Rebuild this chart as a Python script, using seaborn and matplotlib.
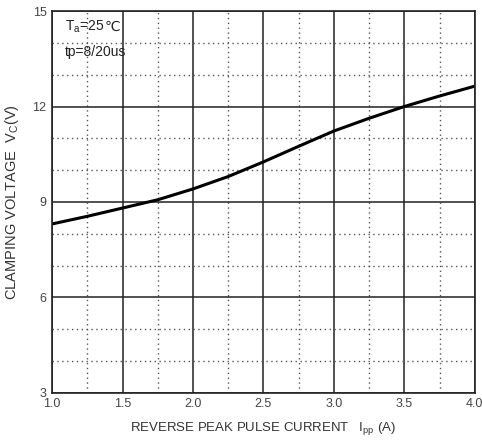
import matplotlib
matplotlib.use("Agg")
import matplotlib.pyplot as plt
import seaborn as sns
import pandas as pd
from matplotlib.ticker import MultipleLocator

# data
arus = [1.0, 1.25, 1.5, 1.75, 2.0, 2.25, 2.5, 2.75, 3.0, 3.25, 3.5, 3.75, 4.0]
tegangan = [8.31, 8.55, 8.81, 9.07, 9.41, 9.80, 10.26, 10.75, 11.23, 11.63, 12.0, 12.33, 12.64]
x_ticks = [1.0, 1.5, 2.0, 2.5, 3.0, 3.5, 4.0]
y_ticks = [3, 6, 9, 12, 15]

df = pd.DataFrame({'Ipp': arus, 'Vc': tegangan})

sns.set_style("white")
plt.rcParams['font.family'] = ['Liberation Sans', 'DejaVu Sans']
plt.rcParams['mathtext.fontset'] = 'custom'
plt.rcParams['mathtext.rm'] = 'Liberation Sans'

fig = plt.figure(figsize=(4.82, 4.42), dpi=100)
ax = fig.add_axes([0.108, 0.111, 0.877, 0.864])

sns.lineplot(x='Ipp', y='Vc', data=df, color='black', linewidth=2.2, ax=ax)

ax.set_xlim(1.0, 4.0)
ax.set_ylim(3, 15)
ax.set_xticks(x_ticks)
ax.set_yticks(y_ticks)
ax.set_xticklabels([f"{v:.1f}" for v in x_ticks])
ax.xaxis.set_minor_locator(MultipleLocator(0.25))
ax.yaxis.set_minor_locator(MultipleLocator(1))
ax.grid(which='major', color='#222222', linewidth=1.1)
ax.grid(which='minor', color='#555555', linestyle=(0, (1, 2.5)), linewidth=1.0)
ax.set_axisbelow(True)
for s in ax.spines.values():
    s.set_color('#222222')
    s.set_linewidth(1.2)
ax.tick_params(which='both', length=0, labelsize=9, colors='#444444', pad=4)

ax.set_xlabel(r'REVERSE PEAK PULSE CURRENT   $\mathregular{I_{pp}}$ (A)', fontsize=9.5, color='#333333', labelpad=7)
ax.set_ylabel(r'CLAMPING VOLTAGE  $\mathregular{V_C}$(V)', fontsize=10.5, color='#333333', labelpad=8)

# annotation: T_a=25℃ (degree sign kept out of mathtext so the font fallback works)
t1 = ax.text(1.09, 14.5, r'$\mathregular{T_a}$=25', fontsize=10, color='#222222', va='center', ha='left')
fig.canvas.draw()
bb = t1.get_window_extent()
x_end = ax.transData.inverted().transform((bb.x1, bb.y0))[0]
ax.text(x_end, 14.5, '℃', fontsize=10, color='#222222', va='center', ha='left',
        family=['DejaVu Sans'])
ax.text(1.09, 13.72, 'tp=8/20us', fontsize=10, color='#222222', va='center', ha='left')

fig.savefig('out.png', dpi=100)
